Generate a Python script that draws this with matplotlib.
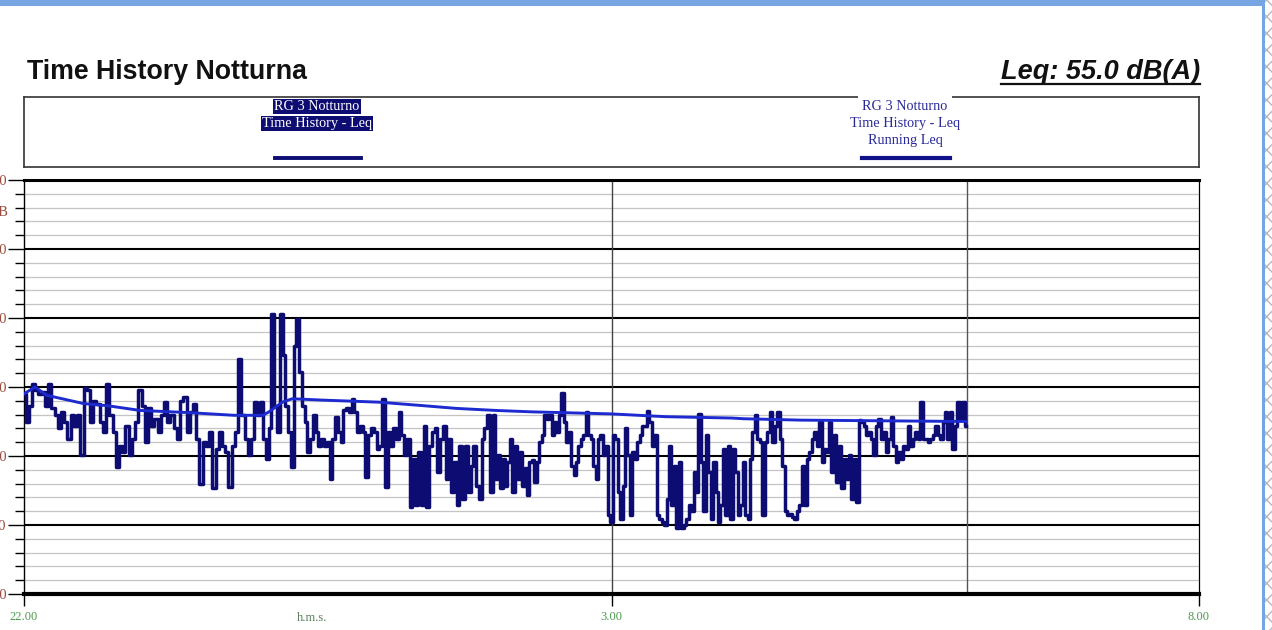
import matplotlib
matplotlib.use("Agg")
import matplotlib.pyplot as plt
import numpy as np
from matplotlib.patches import Rectangle
from matplotlib.lines import Line2D

plt.rcParams['font.family'] = ['Liberation Serif', 'DejaVu Serif']

# time history Leq (dB), minutes after 22:00, read in 2-hour blocks
block_edges = [0, 120, 240, 360, 481]
leq_22_00 = [59.0, 55.0, 57.3, 60.5, 59.5, 59.0, 59.3, 57.3, 60.4, 56.9,
             55.9, 54.0, 56.4, 55.0, 52.5, 55.9, 54.4, 55.9, 50.1, 59.8,
             59.5, 55.0, 58.0, 57.6, 55.0, 53.5, 60.4, 55.9, 53.5, 48.4,
             51.5, 50.6, 54.4, 50.1, 52.5, 55.0, 59.5, 57.3, 52.0, 56.9,
             54.4, 55.4, 53.5, 55.9, 57.8, 55.0, 55.9, 54.0, 52.5, 58.0,
             58.5, 53.5, 56.4, 57.6, 52.5, 46.0, 52.0, 51.5, 53.5, 45.3,
             51.0, 53.5, 51.5, 50.6, 45.5, 51.5, 53.5, 64.1, 55.9, 52.5,
             50.1, 52.5, 57.8]
leq_00_00 = [55.9, 57.8, 52.5, 49.6, 54.0, 70.6, 57.3, 53.5, 70.6, 64.6,
             57.3, 53.5, 48.4, 66.0, 69.9, 62.2, 57.3, 55.0, 50.6, 52.5,
             55.9, 53.5, 51.5, 52.5, 51.5, 52.0, 46.7, 52.5, 55.7, 53.5,
             52.0, 56.6, 56.9, 56.4, 58.3, 56.4, 53.5, 54.4, 53.5, 47.0,
             53.0, 54.0, 53.5, 51.0, 51.5, 58.3, 45.5, 53.5, 51.5, 54.0,
             52.5, 56.4, 53.0, 50.1, 52.5, 42.6, 49.6, 42.9, 50.6, 42.9,
             54.4, 42.6, 51.5, 53.5, 54.0, 47.7, 52.5, 54.4, 46.7, 52.5,
             44.8, 49.1, 42.9, 51.5, 43.8, 51.5, 44.8, 48.6, 51.5, 45.7,
             43.8, 52.5, 54.0, 55.9, 44.8]
leq_02_00 = [55.9, 46.7, 50.1, 45.3, 49.6, 45.7, 49.1, 52.5, 44.8, 51.5,
             46.7, 50.6, 45.7, 48.2, 44.3, 49.1, 49.4, 46.2, 49.1, 52.0,
             53.0, 55.9, 55.4, 55.9, 53.0, 55.0, 53.5, 55.9, 59.2, 55.0,
             52.0, 53.5, 48.6, 47.2, 49.1, 51.5, 52.5, 53.0, 56.4, 53.0,
             52.5, 48.6, 46.7, 52.5, 53.0, 50.1, 51.5, 41.4, 40.5, 53.0,
             52.5, 44.8, 40.9, 45.7, 54.0, 50.1, 41.4, 50.6, 49.6, 52.0,
             53.0, 54.4, 54.4, 56.5, 55.0, 51.5, 53.0, 41.4, 40.9, 40.5,
             40.0, 43.8, 51.5, 42.9, 48.6, 39.5, 49.1, 39.5, 40.0, 40.9,
             42.9, 42.0, 47.7, 44.8, 56.1, 49.1, 42.0, 53.0, 47.7, 40.9,
             49.1, 44.8, 40.5, 42.9, 51.0, 41.4]
leq_04_00 = [51.5, 40.9, 51.0, 47.7, 41.4, 42.9, 49.1, 41.4, 40.9, 49.6,
             53.5, 55.9, 52.5, 52.0, 41.4, 52.0, 53.5, 56.4, 52.0, 54.4,
             56.4, 52.5, 48.6, 42.0, 41.4, 41.6, 41.1, 40.9, 42.0, 42.9,
             48.6, 42.9, 49.6, 50.6, 52.5, 53.5, 51.5, 55.0, 49.1, 51.0,
             50.6, 55.0, 47.7, 53.0, 46.2, 51.5, 45.3, 49.6, 46.7, 50.1,
             43.8, 49.6, 43.3, 55.2, 55.0, 54.4, 53.0, 53.5, 52.5, 50.1,
             54.4, 55.4, 52.5, 53.5, 50.6, 52.5, 55.7, 51.5, 49.1, 50.6,
             49.6, 51.5, 51.0, 54.4, 51.5, 52.5, 53.5, 52.5, 57.8, 52.5,
             52.5, 52.0, 52.5, 53.0, 54.4, 53.0, 52.5, 55.0, 56.4, 52.5,
             56.4, 51.0, 54.4, 57.8, 55.4, 57.8, 54.4]

# running Leq (minutes after 22:00, dB)
run_min = [0, 5.6, 11.6, 30.4, 42.3, 59.4, 83.3, 107.2, 122, 125.1, 131.9, 137,
           152.4, 181.4, 203.6, 220.7, 241.2, 259.1, 300, 327.4, 361.5, 367.5,
           396.5, 481]
run_leq = [59.0, 60.0, 58.8, 57.6, 57.3, 56.6, 56.3, 55.9, 55.9, 56.4, 57.8, 58.3,
           58.1, 57.8, 57.3, 56.9, 56.6, 56.4, 56.1, 55.7, 55.5, 55.4,
           55.2, 55.0]

xtick_min = [0, 300, 600]
xtick_lab = ['22.00', '3.00', '8.00']

W, H = 1272, 630
def fx(px): return px / W
def fy(py): return 1 - py / H

navy = '#0c0c72'
fig = plt.figure(figsize=(12.72, 6.3), dpi=100)

ax = fig.add_axes([fx(24), fy(594), fx(1199) - fx(24), fy(180) - fy(594)])

t_all, v_all = [], []
blocks = [leq_22_00, leq_00_00, leq_02_00, leq_04_00]
for i, vals in enumerate(blocks):
    t_all.extend(np.linspace(block_edges[i], block_edges[i + 1], len(vals), endpoint=(i == 3)))
    v_all.extend(vals)
ax.plot(t_all, v_all, drawstyle='steps-mid', color=navy, lw=2.5, zorder=3)
ax.plot(run_min, run_leq, color='#1c2ad0', lw=2.1, zorder=4)

ax.set_xlim(0, 600)
ax.set_ylim(30, 90)
ax.set_yticks(np.arange(30, 91, 10))
ax.set_yticks(np.arange(30, 91, 2), minor=True)
ax.set_yticklabels([str(v) for v in range(30, 91, 10)])
ax.set_xticks(xtick_min)
ax.set_xticklabels(xtick_lab)

ax.grid(axis='y', which='minor', color='#c4c4c4', lw=0.9)
ax.grid(axis='y', which='major', color='black', lw=1.5)
ax.set_axisbelow(True)
ax.axvline(300, color='#444444', lw=1.0, zorder=2)
ax.axvline(481.3, color='#555555', lw=1.0, zorder=2)

ax.spines['top'].set_linewidth(2.2)
ax.spines['bottom'].set_linewidth(3)
ax.spines['left'].set_linewidth(1)
ax.spines['right'].set_linewidth(0.9)

ax.tick_params(axis='y', which='major', length=11.5, width=1, pad=1,
               labelsize=10.5, labelcolor='#9b4b3b')
ax.tick_params(axis='y', which='minor', length=6.5, width=1)
ax.tick_params(axis='x', which='major', length=8.6, width=1, pad=4,
               labelsize=9, labelcolor='#4c9a4c')
fig.text(fx(8), fy(213), 'dB', ha='right', va='center', fontsize=10.5, color='#9b4b3b')
fig.text(fx(312), fy(618), 'h.m.s.', ha='center', va='center', fontsize=9, color='#5a7f5a')

# legend box
lax = fig.add_axes([fx(24), fy(167), fx(1199) - fx(24), fy(97) - fy(167)])
lax.set_xlim(24, 1199)
lax.set_ylim(167, 97)
lax.set_xticks([])
lax.set_yticks([])
for s in lax.spines.values():
    s.set_linewidth(1.2)
    s.set_color('#333333')
lax.text(317, 106.5, 'RG 3 Notturno', ha='center', va='center', color='white', fontsize=10.3,
         bbox=dict(facecolor=navy, edgecolor='none', pad=0.8), clip_on=False)
lax.text(317, 123.5, 'Time History - Leq', ha='center', va='center', color='white', fontsize=10.3,
         bbox=dict(facecolor=navy, edgecolor='none', pad=0.8))
lax.plot([275, 361], [158, 158], color=navy, lw=2.8)
lax.text(905, 106.5, 'RG 3 Notturno', ha='center', va='center', color='#2a2a9a', fontsize=10.3,
         bbox=dict(facecolor='white', edgecolor='none', pad=3), clip_on=False)
lax.text(905, 123.5, 'Time History - Leq', ha='center', va='center', color='#2a2a9a', fontsize=10.3)
lax.text(905, 140.5, 'Running Leq', ha='center', va='center', color='#2a2a9a', fontsize=10.3)
lax.plot([862, 950], [158, 158], color='#101088', lw=3)

# titles
fig.text(fx(27), fy(72), 'Time History Notturna', fontsize=19.3, fontweight='bold',
         family='Liberation Sans', ha='left', va='center', color='#111111')
leq_txt = fig.text(fx(1200), fy(72), 'Leq: 55.0 dB(A)', fontsize=19.5, fontweight='bold',
                   style='italic', family='Liberation Sans', ha='right', va='center', color='#111111')
fig.canvas.draw()
bb = leq_txt.get_window_extent().transformed(fig.transFigure.inverted())
fig.add_artist(Line2D([bb.x0, bb.x1], [fy(84), fy(84)], color='#111111', lw=1.6,
                      transform=fig.transFigure))

# outer frame
fig.add_artist(Rectangle((0, fy(6)), fx(1262), 6 / H, transform=fig.transFigure,
                         color='#76a5e2', lw=0))
fig.add_artist(Rectangle((fx(1262), 0), 3 / W, 1, transform=fig.transFigure,
                         color='#76a5e2', lw=0))
fig.add_artist(Rectangle((fx(1265), 0), 7 / W, 1, transform=fig.transFigure,
                         facecolor='white', edgecolor='#b8b8b8', hatch='xx', lw=0))

fig.savefig('out.png', dpi=100)
